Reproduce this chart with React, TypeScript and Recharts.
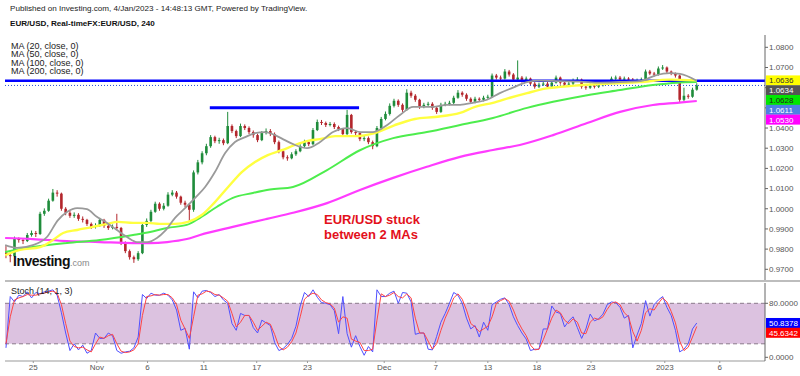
import { ComposedChart, Bar, Line, XAxis, YAxis, ReferenceLine, ReferenceArea } from "recharts";

const FONT = 'Arial, "Liberation Sans", sans-serif';
const UP = "#1f8c3b";
const DOWN = "#b3262c";

// 8h candles, open = previous close
const firstOpen = 0.979;
const closes = [
  0.9770, 0.9765, 0.9850, 0.9845, 0.9840, 0.9870, 0.9880, 0.9875, 0.9975, 0.9990,
  1.0040, 1.0080, 1.0075, 1.0000, 0.9980, 0.9965, 0.9970, 0.9950, 0.9945, 0.9925,
  0.9910, 0.9915, 0.9945, 0.9915, 0.9905, 0.9910, 0.9905, 0.9830, 0.9790, 0.9760,
  0.9750, 0.9780, 0.9920, 0.9940, 0.9985, 1.0025, 1.0000, 1.0015, 1.0070, 1.0080,
  1.0060, 1.0030, 1.0020, 0.9995, 1.0180, 1.0230, 1.0275, 1.0310, 1.0355, 1.0335,
  1.0340, 1.0325, 1.0410, 1.0385, 1.0360, 1.0410, 1.0400, 1.0380, 1.0365, 1.0340,
  1.0375, 1.0385, 1.0370, 1.0330, 1.0285, 1.0255, 1.0250, 1.0270, 1.0285, 1.0310,
  1.0330, 1.0320, 1.0390, 1.0430, 1.0425, 1.0415, 1.0420, 1.0405, 1.0395, 1.0370,
  1.0465, 1.0380, 1.0375, 1.0345, 1.0350, 1.0330, 1.0310, 1.0400, 1.0445, 1.0470,
  1.0510, 1.0535, 1.0515, 1.0490, 1.0575, 1.0560, 1.0540, 1.0505, 1.0515, 1.0520,
  1.0500, 1.0480, 1.0515, 1.0520, 1.0525, 1.0550, 1.0575, 1.0565, 1.0545, 1.0530,
  1.0545, 1.0540, 1.0550, 1.0555, 1.0660, 1.0650, 1.0645, 1.0680, 1.0665, 1.0640,
  1.0650, 1.0635, 1.0645, 1.0620, 1.0605, 1.0615, 1.0620, 1.0605, 1.0625, 1.0650,
  1.0625, 1.0615, 1.0620, 1.0635, 1.0640, 1.0605, 1.0600, 1.0610, 1.0605, 1.0612,
  1.0620, 1.0625, 1.0645, 1.0650, 1.0640, 1.0645, 1.0640, 1.0630, 1.0635, 1.0640,
  1.0680, 1.0670, 1.0665, 1.0695, 1.0700, 1.0680, 1.0670, 1.0660, 1.0540, 1.0560,
  1.0555, 1.0590, 1.0611,
];
const highs = [
  0.9815, 0.9785, 0.9862, 0.9858, 0.9852, 0.9880, 0.9892, 0.9890, 0.9985, 1.0002,
  1.0050, 1.0098, 1.0092, 1.0080, 1.0008, 0.9990, 0.9982, 0.9978, 0.9962, 0.9950,
  0.9932, 0.9928, 0.9955, 0.9950, 0.9925, 0.9922, 0.9975, 0.9910, 0.9838, 0.9798,
  0.9768, 0.9790, 0.9932, 0.9952, 0.9995, 1.0035, 1.0032, 1.0028, 1.0082, 1.0092,
  1.0088, 1.0065, 1.0040, 1.0028, 1.0190, 1.0242, 1.0285, 1.0322, 1.0365, 1.0362,
  1.0352, 1.0348, 1.0480, 1.0418, 1.0392, 1.0422, 1.0418, 1.0408, 1.0388, 1.0372,
  1.0385, 1.0398, 1.0395, 1.0378, 1.0338, 1.0292, 1.0265, 1.0280, 1.0295, 1.0320,
  1.0342, 1.0338, 1.0400, 1.0442, 1.0440, 1.0432, 1.0430, 1.0428, 1.0412, 1.0400,
  1.0490, 1.0470, 1.0390, 1.0382, 1.0360, 1.0358, 1.0338, 1.0410, 1.0455, 1.0482,
  1.0522, 1.0545, 1.0542, 1.0522, 1.0592, 1.0585, 1.0568, 1.0545, 1.0525, 1.0530,
  1.0528, 1.0508, 1.0525, 1.0530, 1.0535, 1.0560, 1.0588, 1.0582, 1.0572, 1.0552,
  1.0555, 1.0552, 1.0560, 1.0565, 1.0670, 1.0668, 1.0660, 1.0692, 1.0688, 1.0672,
  1.0735, 1.0658, 1.0655, 1.0650, 1.0628, 1.0625, 1.0630, 1.0628, 1.0635, 1.0660,
  1.0655, 1.0632, 1.0630, 1.0645, 1.0652, 1.0645, 1.0615, 1.0620, 1.0618, 1.0622,
  1.0630, 1.0635, 1.0655, 1.0660, 1.0658, 1.0655, 1.0652, 1.0648, 1.0645, 1.0650,
  1.0690, 1.0688, 1.0678, 1.0705, 1.0712, 1.0705, 1.0685, 1.0675, 1.0665, 1.0600,
  1.0568, 1.0600, 1.0622,
];
const lows = [
  0.9755, 0.9735, 0.9760, 0.9832, 0.9825, 0.9835, 0.9862, 0.9860, 0.9870, 0.9965,
  0.9985, 1.0035, 1.0060, 0.9990, 0.9968, 0.9955, 0.9955, 0.9940, 0.9932, 0.9915,
  0.9900, 0.9902, 0.9910, 0.9905, 0.9895, 0.9898, 0.9895, 0.9820, 0.9780, 0.9748,
  0.9732, 0.9742, 0.9775, 0.9910, 0.9932, 0.9980, 0.9990, 0.9992, 1.0010, 1.0062,
  1.0050, 1.0020, 1.0008, 0.9940, 0.9985, 1.0170, 1.0220, 1.0265, 1.0302, 1.0325,
  1.0322, 1.0315, 1.0320, 1.0375, 1.0350, 1.0355, 1.0390, 1.0370, 1.0352, 1.0330,
  1.0335, 1.0368, 1.0360, 1.0320, 1.0275, 1.0245, 1.0238, 1.0245, 1.0262, 1.0280,
  1.0302, 1.0310, 1.0315, 1.0385, 1.0415, 1.0405, 1.0408, 1.0395, 1.0385, 1.0360,
  1.0365, 1.0372, 1.0365, 1.0335, 1.0335, 1.0320, 1.0295, 1.0305, 1.0392, 1.0438,
  1.0462, 1.0502, 1.0505, 1.0480, 1.0485, 1.0550, 1.0530, 1.0495, 1.0498, 1.0508,
  1.0490, 1.0470, 1.0475, 1.0508, 1.0512, 1.0518, 1.0545, 1.0555, 1.0535, 1.0520,
  1.0522, 1.0530, 1.0532, 1.0545, 1.0550, 1.0640, 1.0635, 1.0640, 1.0655, 1.0630,
  1.0632, 1.0625, 1.0628, 1.0612, 1.0595, 1.0598, 1.0608, 1.0595, 1.0600, 1.0620,
  1.0615, 1.0605, 1.0608, 1.0612, 1.0628, 1.0595, 1.0590, 1.0594, 1.0596, 1.0598,
  1.0606, 1.0614, 1.0620, 1.0638, 1.0632, 1.0634, 1.0632, 1.0622, 1.0624, 1.0628,
  1.0635, 1.0662, 1.0655, 1.0660, 1.0688, 1.0672, 1.0662, 1.0650, 1.0525, 1.0532,
  1.0545, 1.0550, 1.0585,
];

// moving averages, read at candle positions
const ma20K = [-0.2, 2.6, 6.3, 9.6, 12.2, 14.3, 16.7, 19, 21.3, 23.7, 26, 28.4, 30.7, 33.1, 35.4, 37.3, 39.6, 42, 44.3, 46.7, 49, 51.4, 53.7, 56.1, 58.4, 60.7, 63.1, 65.4, 67.8, 70.6, 73.6, 76.7, 80, 83, 86.1, 89.4, 92.4, 95.5, 100.1, 103.4, 106.5, 109.5, 112.8, 115.8, 118.9, 122.2, 125.2, 129.9, 134.6, 139.3, 144, 148.7, 152.2, 155.7, 158.1, 162];
const ma20V = [0.9820, 0.9806, 0.9820, 0.9860, 0.9944, 0.9984, 1.0003, 0.9998, 0.9960, 0.9930, 0.9895, 0.9860, 0.9835, 0.9835, 0.9855, 0.9890, 0.9954, 1.0003, 1.0053, 1.0108, 1.0182, 1.0276, 1.0331, 1.0355, 1.0375, 1.0380, 1.0365, 1.0340, 1.0316, 1.0300, 1.0330, 1.0380, 1.0400, 1.0380, 1.0380, 1.0415, 1.0465, 1.0505, 1.0505, 1.0515, 1.0515, 1.0525, 1.0540, 1.0573, 1.0600, 1.0628, 1.0635, 1.0632, 1.0630, 1.0625, 1.0628, 1.0632, 1.0660, 1.0672, 1.0668, 1.0634];
const ma50K = [-0.2, 3.3, 8, 11, 13.4, 16.7, 20.4, 23.7, 26.3, 29.8, 33.1, 36.1, 39.6, 42.7, 46, 49, 52.1, 55.3, 58.4, 61.4, 64.7, 67.8, 70.8, 73.6, 77.2, 81.8, 86.5, 91.2, 95.9, 100.6, 106.5, 110, 114.2, 118.2, 122.2, 126.4, 133.4, 141.2, 148.7, 155.7, 162];
const ma50V = [0.9770, 0.9796, 0.9810, 0.9845, 0.9880, 0.9895, 0.9910, 0.9925, 0.9935, 0.9930, 0.9930, 0.9925, 0.9925, 0.9935, 0.9970, 1.0033, 1.0108, 1.0182, 1.0232, 1.0266, 1.0290, 1.0316, 1.0336, 1.0345, 1.0360, 1.0360, 1.0375, 1.0415, 1.0445, 1.0455, 1.0475, 1.0505, 1.0525, 1.0550, 1.0573, 1.0595, 1.0610, 1.0620, 1.0628, 1.0640, 1.0636];
const ma100K = [-0.2, 6.3, 14.3, 22, 29.8, 33.8, 37.8, 42.4, 45.5, 49.5, 53.2, 57.9, 61.9, 67.3, 75.3, 83, 90.8, 98.7, 106.5, 114.2, 122.2, 128.3, 136.3, 144, 151.7, 157.4, 162];
const ma100V = [0.9786, 0.9810, 0.9830, 0.9845, 0.9870, 0.9885, 0.9905, 0.9920, 0.9955, 1.0010, 1.0054, 1.0078, 1.0095, 1.0108, 1.0192, 1.0290, 1.0350, 1.0380, 1.0415, 1.0450, 1.0500, 1.0530, 1.0563, 1.0588, 1.0613, 1.0625, 1.0628];
const ma200K = [-0.2, 6.3, 14.3, 22, 29.8, 33.8, 37.8, 42.4, 45.5, 53.2, 61.2, 67.3, 75.3, 83, 90.8, 98.7, 106.5, 114.2, 120.5, 128.3, 136.3, 144, 151.7, 157.4, 162];
const ma200V = [0.9855, 0.9850, 0.9840, 0.9835, 0.9830, 0.9830, 0.9835, 0.9850, 0.9870, 0.9910, 0.9950, 0.9980, 1.0028, 1.0093, 1.0153, 1.0208, 1.0257, 1.0291, 1.0316, 1.0365, 1.0425, 1.0480, 1.0514, 1.0525, 1.0534];

// Stoch (14, 1, 3), one value per candle
const stochK = [
  14, 90, 82, 92, 90, 97, 88, 96, 94, 97,
  98, 100, 92, 66, 36, 10, 20, 11, 18, 6,
  10, 36, 28, 28, 36, 32, 10, 6, 8, 9,
  14, 30, 93, 87, 95, 92, 92, 95, 92, 85,
  70, 40, 43, 12, 97, 88, 98, 99, 96, 90,
  93, 85, 80, 50, 40, 65, 62, 62, 44, 36,
  55, 51, 47, 22, 10, 13, 19, 28, 46, 76,
  96, 90, 100, 89, 81, 80, 78, 69, 35, 90,
  35, 15, 32, 16, 3, 16, 8, 100, 90, 90,
  95, 98, 80, 96, 95, 82, 34, 36, 36, 12,
  11, 31, 52, 65, 80, 96, 92, 80, 58, 42,
  47, 30, 52, 40, 78, 82, 86, 88, 78, 60,
  47, 36, 27, 10, 12, 12, 42, 42, 76, 67,
  65, 45, 54, 60, 44, 28, 42, 64, 54, 57,
  64, 78, 82, 81, 74, 58, 62, 14, 33, 50,
  84, 61, 78, 85, 90, 74, 62, 40, 8, 12,
  20, 42, 50.84,
];
const stochD = [
  20, 60, 85, 88, 90, 93, 92, 92, 94, 95,
  97, 98, 95, 78, 50, 24, 16, 14, 15, 11,
  8, 20, 30, 28, 32, 34, 20, 9, 7, 8,
  11, 20, 62, 90, 91, 93, 92, 93, 93, 88,
  78, 55, 42, 28, 60, 92, 94, 98, 97, 93,
  92, 88, 83, 65, 45, 52, 62, 62, 52, 40,
  46, 52, 49, 34, 16, 11, 15, 23, 36, 60,
  86, 92, 95, 93, 85, 81, 79, 73, 52, 60,
  58, 27, 24, 22, 10, 10, 12, 55, 94, 90,
  92, 96, 90, 88, 94, 88, 58, 36, 36, 24,
  12, 20, 40, 58, 72, 88, 94, 86, 70, 50,
  45, 38, 42, 46, 60, 80, 84, 87, 83, 70,
  54, 42, 32, 18, 11, 12, 26, 42, 58, 70,
  66, 55, 50, 57, 52, 36, 35, 52, 58, 56,
  60, 71, 80, 82, 78, 66, 60, 38, 24, 40,
  66, 72, 70, 80, 88, 82, 68, 51, 24, 10,
  15, 30, 45.63,
];

const priceTicks = [0.97, 0.98, 0.99, 1.0, 1.01, 1.02, 1.03, 1.04, 1.05, 1.06, 1.07, 1.08];
// tick labels hidden behind the price tags on the right
const coveredTicks = [1.05, 1.06];
const stochTicks = [0, 80];
const dateTickK = [6.4, 21.3, 33.2, 46.4, 58.8, 70.7, 88.7, 100.8, 113, 124.5, 137.2, 154.5, 167.4];
const dateLabels = ["25", "Nov", "6", "11", "17", "23", "Dec", "7", "13", "18", "23", "2023", "6"];

const resistance = 1.0634;
const oldHigh = { price: 1.0501, from: 47.8, to: 82.8 };
const priceTags = [1.0636, 1.0634, 1.0628, 1.0611, 1.053];
const priceTagFill = ["#ffff00", "#555555", "#00e600", "#4f7fe3", "#ff00ff"];
const priceTagInk = ["#333333", "#ffffff", "#222222", "#ffffff", "#ffffff"];
const stochTags = [50.8378, 45.6342];
const stochTagFill = ["#0000ff", "#ff0000"];
const stochTagInk = ["#ffffff", "#ffffff"];

const X_DOMAIN: [number, number] = [-0.23, 178];
const lastClose = closes[closes.length - 1];

const candles = closes.map((c, k) => {
  const o = k === 0 ? firstOpen : closes[k - 1];
  return { k, o, c, h: highs[k], l: lows[k], range: [lows[k], highs[k]] };
});
const toLine = (ks: number[], vs: number[]) => ks.map((k, i) => ({ k, v: vs[i] }));
const ma20 = toLine(ma20K, ma20V);
const ma50 = toLine(ma50K, ma50V);
const ma100 = toLine(ma100K, ma100V);
const ma200 = toLine(ma200K, ma200V);
const stochRows = stochK.map((v, k) => ({ k, pk: v, pd: stochD[k] }));
const dateLabelAt = new Map(dateTickK.map((k, i) => [k, dateLabels[i]]));

function Candle(props: any) {
  const { x, y, width, height, payload } = props;
  if (x == null || y == null || !payload) return null;
  const { o, c, h, l } = payload;
  const top = Math.min(y, y + height);
  const hgt = Math.abs(height);
  const cx = x + width / 2;
  const yOf = (v: number) => top + ((h - v) / (h - l)) * hgt;
  const col = c >= o ? UP : DOWN;
  const bTop = yOf(Math.max(o, c));
  const bBot = yOf(Math.min(o, c));
  return (
    <g>
      <line x1={cx} x2={cx} y1={top} y2={top + hgt} stroke={col} strokeWidth={1} />
      <rect x={cx - 1.3} width={2.6} y={bTop} height={Math.max(1, bBot - bTop)} fill={col} />
    </g>
  );
}

function TagStack(props: any) {
  const { viewBox, values, fills, inks } = props;
  if (!viewBox) return null;
  const x = viewBox.x + viewBox.width;
  return (
    <g>
      {values.map((v: number, i: number) => {
        const yc = viewBox.y + i * 9.8;
        return (
          <g key={i}>
            <rect x={x + 1} y={yc - 5} width={35} height={10} fill={fills[i]} />
            <text x={x + 4} y={yc + 3} fontSize={8} fill={inks[i]} fontFamily={FONT}>
              {v.toFixed(4)}
            </text>
          </g>
        );
      })}
    </g>
  );
}

const axisTick = { fontSize: 8, fill: "#555", fontFamily: FONT };
const maLine = { type: "monotone" as const, dataKey: "v", dot: false, activeDot: false, isAnimationActive: false };

export default function App() {
  return (
    <div style={{ position: "absolute", left: 0, top: 0, width: 800, height: 376, background: "#fff", overflow: "hidden", fontFamily: FONT }}>
      <div style={{ position: "absolute", left: 10, top: 4, fontSize: 8.1, color: "#222", whiteSpace: "nowrap" }}>
        Published on Investing.com, 4/Jan/2023 - 14:48:13 GMT, Powered by TradingView.
      </div>
      <div style={{ position: "absolute", left: 10, top: 19, fontSize: 8.1, fontWeight: "bold", color: "#111", whiteSpace: "nowrap" }}>
        EUR/USD, Real-timeFX:EUR/USD, 240
      </div>

      <div style={{ position: "absolute", left: 0, top: 0 }}>
        <ComposedChart width={800} height={281} data={candles} margin={{ top: 35, right: 0, bottom: 1, left: 5 }}>
          <XAxis dataKey="k" type="number" domain={X_DOMAIN} hide allowDataOverflow />
          <YAxis
            orientation="right" width={35} domain={[0.9647, 1.0861]} ticks={priceTicks} interval={0}
            allowDataOverflow tick={axisTick}
            tickFormatter={(v: number) => (coveredTicks.includes(v) ? "" : v.toFixed(4))}
            tickSize={3} tickMargin={1} axisLine={{ stroke: "#666" }} tickLine={{ stroke: "#666" }}
          />
          <ReferenceLine y={lastClose} stroke="#2a4fd6" strokeDasharray="1 2" />
          <Bar dataKey="range" barSize={3} shape={Candle} isAnimationActive={false} />
          <ReferenceLine y={resistance} stroke="#0000ff" strokeWidth={2.5} />
          <ReferenceLine
            segment={[{ x: oldHigh.from, y: oldHigh.price }, { x: oldHigh.to, y: oldHigh.price }]}
            stroke="#0000ff" strokeWidth={3}
          />
          <Line {...maLine} data={ma200} stroke="#ff3cff" strokeWidth={2.2} />
          <Line {...maLine} data={ma100} stroke="#4ded4d" strokeWidth={2} />
          <Line {...maLine} data={ma50} stroke="#ffff40" strokeWidth={2.4} />
          <Line {...maLine} data={ma20} stroke="#9a9a9a" strokeWidth={1.8} />
        </ComposedChart>
      </div>

      <div style={{ position: "absolute", left: 0, top: 0 }}>
        <ComposedChart width={800} height={281} data={candles} margin={{ top: 35, right: 35, bottom: 1, left: 5 }}>
          <XAxis dataKey="k" type="number" domain={X_DOMAIN} hide allowDataOverflow />
          <YAxis domain={[0.9647, 1.0861]} hide allowDataOverflow />
          <ReferenceLine
            y={priceTags[0]} stroke="none"
            label={<TagStack values={priceTags} fills={priceTagFill} inks={priceTagInk} />}
          />
        </ComposedChart>
      </div>

      <div style={{ position: "absolute", left: 5, top: 280, width: 795, height: 2, background: "#bdbdbd" }} />

      <div style={{ position: "absolute", left: 0, top: 281 }}>
        <ComposedChart width={800} height={95} data={stochRows} margin={{ top: 2, right: 0, bottom: 0, left: 5 }}>
          <XAxis
            dataKey="k" type="number" domain={X_DOMAIN} ticks={dateTickK} interval={0} allowDataOverflow
            tickFormatter={(v: number) => dateLabelAt.get(v) ?? ""} height={15} tick={axisTick}
            tickSize={2} tickMargin={1} axisLine={{ stroke: "#999" }} tickLine={{ stroke: "#999" }}
          />
          <YAxis
            orientation="right" width={35} domain={[-5.48, 110.07]} ticks={stochTicks} interval={0}
            allowDataOverflow tickFormatter={(v: number) => v.toFixed(4)} tick={axisTick}
            tickSize={3} tickMargin={1} axisLine={{ stroke: "#666" }} tickLine={{ stroke: "#666" }}
          />
          <ReferenceArea y1={20} y2={80} fill="#dcc2e0" fillOpacity={1} stroke="none" />
          <ReferenceLine y={80} stroke="#8a7a8a" strokeDasharray="4 3" />
          <ReferenceLine y={20} stroke="#8a7a8a" strokeDasharray="4 3" />
          <Line type="linear" dataKey="pk" stroke="#5050ff" strokeWidth={1} dot={false} activeDot={false} isAnimationActive={false} />
          <Line type="linear" dataKey="pd" stroke="#ff4545" strokeWidth={1} dot={false} activeDot={false} isAnimationActive={false} />
          <ReferenceLine
            y={stochTags[0]} stroke="none"
            label={<TagStack values={stochTags} fills={stochTagFill} inks={stochTagInk} />}
          />
        </ComposedChart>
      </div>

      <div style={{ position: "absolute", left: 11, top: 41.5, fontSize: 9, lineHeight: "8.5px", color: "#222", whiteSpace: "nowrap" }}>
        <div>MA (20, close, 0)</div>
        <div>MA (50, close, 0)</div>
        <div>MA (100, close, 0)</div>
        <div>MA (200, close, 0)</div>
      </div>

      <div style={{ position: "absolute", left: 11, top: 286, fontSize: 9, color: "#222", whiteSpace: "nowrap" }}>
        Stoch (14, 1, 3)
      </div>

      <div style={{ position: "absolute", left: 324, top: 212, fontSize: 13, lineHeight: "15px", fontWeight: "bold", color: "#e3101b", whiteSpace: "nowrap" }}>
        <div>EUR/USD stuck</div>
        <div>between 2 MAs</div>
      </div>

      <div style={{ position: "absolute", left: 13, top: 253, whiteSpace: "nowrap", lineHeight: "16px" }}>
        <span style={{ fontSize: 14, fontWeight: "bold", color: "#111", letterSpacing: -0.5 }}>Investing</span>
        <span style={{ fontSize: 9, color: "#888" }}>.com</span>
      </div>
    </div>
  );
}
